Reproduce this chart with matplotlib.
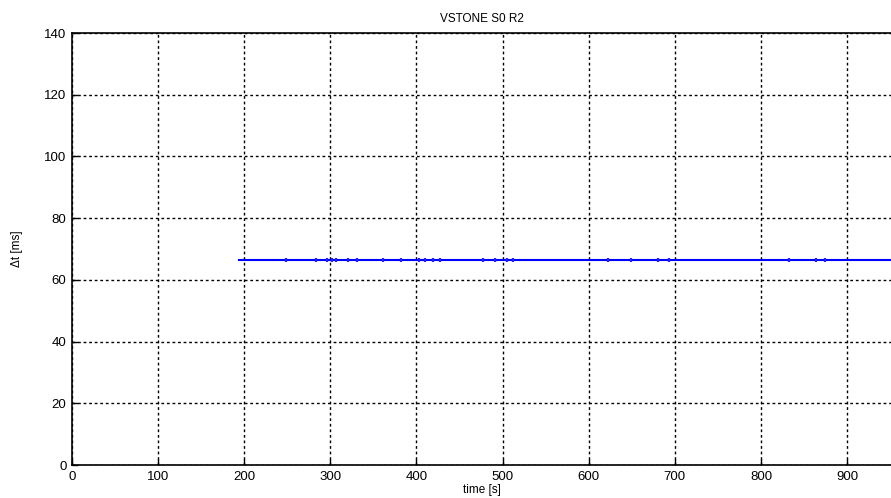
import matplotlib.pyplot as plt

# 数据
t_line = [194, 951]
dt_line = [66.5, 66.5]
# 线上的小毛刺
glitch_t = [249, 283, 296, 302, 307, 321, 331, 361, 382, 403, 410, 419, 427,
            477, 491, 505, 512, 622, 649, 681, 693, 833, 864, 874]
glitch_dt = [66.5] * len(glitch_t)
xticks = list(range(0, 1000, 100))
yticks = list(range(0, 160, 20))

plt.rcParams['font.family'] = ['Liberation Sans', 'DejaVu Sans']

fig = plt.figure(figsize=(8.91, 4.98), dpi=100)
ax = fig.add_axes([72 / 891, 33 / 498, 1 - 72 / 891, 432 / 498])

ax.plot(t_line, dt_line, color='#0000ff', lw=1.5, clip_on=False)
ax.plot(glitch_t, glitch_dt, ls='none', marker='|', ms=3.5, mew=1.6, color='#2020ff')

ax.set_xlim(0, 951)
ax.set_ylim(0, 140)
ax.set_xticks(xticks)
ax.set_yticks(yticks)
ax.tick_params(direction='in', length=4, width=1, labelsize=9.5, pad=4)
ax.grid(True, color='black', linestyle=(0, (2, 2)), linewidth=1)
for s in ax.spines.values():
    s.set_linewidth(1.2)
ax.spines['right'].set_visible(False)

ax.set_title('VSTONE S0 R2', fontsize=8.5, pad=8)
ax.set_xlabel('time [s]', fontsize=8.5, labelpad=1)
ax.set_ylabel('\u0394t [ms]', fontsize=8.5, labelpad=15)

fig.savefig('out.png', dpi=100)
